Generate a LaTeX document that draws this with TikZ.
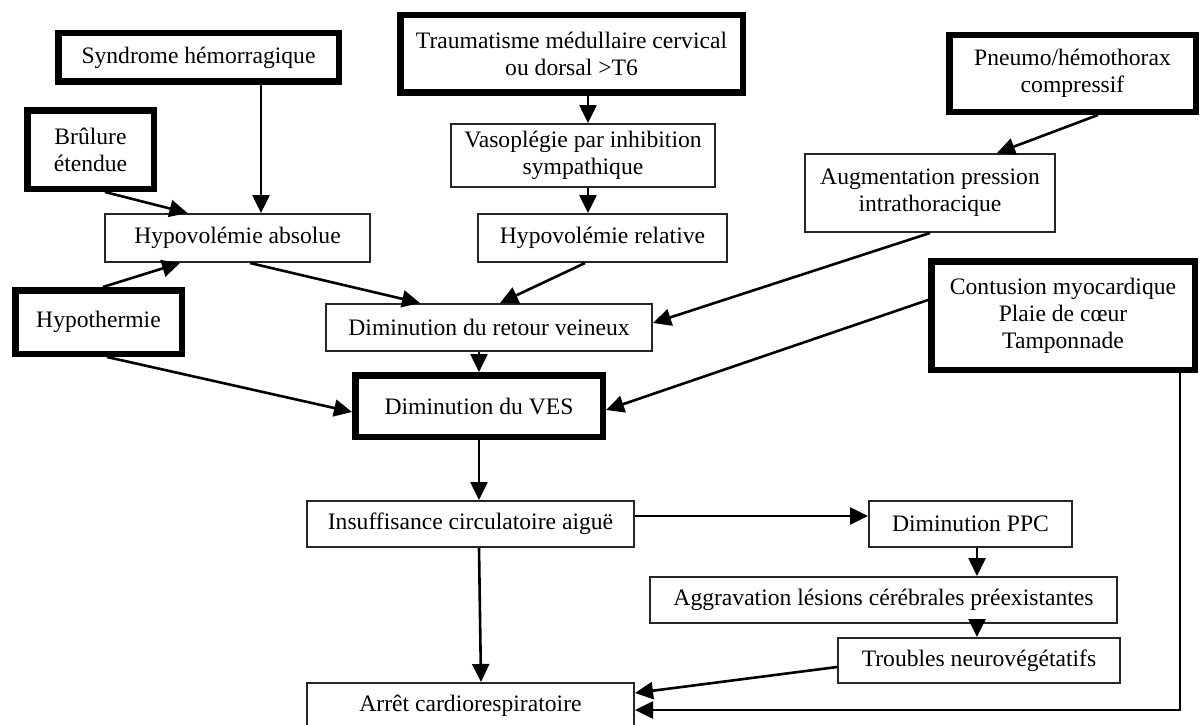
\documentclass[tikz,border=0pt]{standalone}
\usepackage{fontspec}
\setmainfont{Liberation Serif}
\usetikzlibrary{arrows.meta,calc}
\begin{document}
\begin{tikzpicture}[x=1pt,y=-1pt,
  every node/.style={font=\fontsize{23.6}{27}\selectfont, align=center, inner sep=0pt},
  thinbox/.style={draw=black!85, line width=2pt, fill=white},
  thickbox/.style={draw=black, line width=6.5pt, fill=white},
  link/.style={draw=black, line width=2.6pt, -{Triangle[length=18pt,width=17pt]}}
]
\useasboundingbox (0,0) rectangle (1200,725);
% cause boxes (thick)
\node[thickbox, minimum width=280.5pt, minimum height=48.5pt] (syn) at (198.5,57.5) {Syndrome hémorragique};
\node[thickbox, minimum width=126.5pt, minimum height=78.5pt] (bru) at (90.5,149.5) {Brûlure\\étendue};
\node[thickbox, minimum width=166.5pt, minimum height=63.5pt] (hyt) at (98.5,322) {Hypothermie};
\node[thickbox, minimum width=342.5pt, minimum height=77.5pt] (tra) at (571.5,54) {Traumatisme médullaire cervical\\ou dorsal >T6};
\node[thickbox, minimum width=246.5pt, minimum height=76.5pt] (pne) at (1072.5,73.5) {Pneumo/hémothorax\\compressif};
\node[thickbox, minimum width=263.5pt, minimum height=108.5pt] (con) at (1063,315.5) {Contusion myocardique\\Plaie de cœur\\Tamponnade};
\node[thickbox, minimum width=247.5pt, minimum height=61.5pt] (ves) at (479,406) {Diminution du VES};
% intermediate boxes (thin)
\node[thinbox, minimum width=265pt, minimum height=48pt] (ha) at (237.5,238) {Hypovolémie absolue};
\node[thinbox, minimum width=264pt, minimum height=63pt] (vas) at (583,155.5) {Vasoplégie par inhibition\\sympathique};
\node[thinbox, minimum width=249pt, minimum height=48pt] (hr) at (602.5,238) {Hypovolémie relative};
\node[thinbox, minimum width=326pt, minimum height=47pt] (rv) at (489,327.5) {Diminution du retour veineux};
\node[thinbox, minimum width=250pt, minimum height=78pt] (aug) at (930,193) {Augmentation pression\\intrathoracique};
\node[thinbox, minimum width=327pt, minimum height=46pt] (ins) at (470.5,524) {Insuffisance circulatoire aiguë};
\node[thinbox, minimum width=203pt, minimum height=46pt] (ppc) at (970.5,524) {Diminution PPC};
\node[thinbox, minimum width=467pt, minimum height=46pt] (agg) at (883.5,600) {Aggravation lésions cérébrales préexistantes};
\node[thinbox, minimum width=282pt, minimum height=45pt] (tro) at (979,660.5) {Troubles neurovégétatifs};
\node[thinbox, minimum width=327pt, minimum height=46pt] (arr) at (470.5,706) {Arrêt cardiorespiratoire};
% connectors
\draw[link] ([xshift=62.5pt]syn.south) -- ([xshift=62.5pt]syn.south |- ha.north);
\draw[link] ([xshift=14.5pt]bru.south) -- ([xshift=-50pt]ha.north);
\draw[link] ([xshift=4.5pt]hyt.north) -- ([xshift=-57.5pt]ha.south);
\draw[link] ([xshift=12.5pt]ha.south) -- ([xshift=-69pt]rv.north);
\draw[link] ([xshift=8.5pt]hyt.south) -- ([yshift=-6pt]ves.west);
\draw[link] ([xshift=16.5pt]tra.south) -- ([xshift=16.5pt]tra.south |- vas.north);
\draw[link] ([xshift=5pt]vas.south) -- ([xshift=5pt]vas.south |- hr.north);
\draw[link] ([xshift=-17.5pt]hr.south) -- ([xshift=11pt]rv.north);
\draw[link] ([xshift=25.5pt]pne.south) -- ([xshift=67pt]aug.north);
\draw[link] (aug.south) -- ([yshift=4.5pt]rv.east);
\draw[link] ([yshift=15.5pt]con.west) -- ([yshift=-4pt]ves.east);
\draw[link] ([xshift=-10pt]rv.south) -- ([xshift=-10pt]rv.south |- ves.north);
\draw[link] (ves.south) -- (ves.south |- ins.north);
\draw[link] ([xshift=8.5pt]ins.south) -- ([xshift=10.5pt]arr.north);
\draw[link] ([yshift=8pt]ins.east) -- ([yshift=8pt]ins.east -| ppc.west);
\draw[link] ([xshift=6.5pt]ppc.south) -- ([xshift=6.5pt]ppc.south |- agg.north);
\draw[link] ([xshift=93.5pt]agg.south) -- ([xshift=93.5pt]agg.south |- tro.north);
\draw[link] ([yshift=-6.5pt]tro.west) -- ([yshift=13pt]arr.east);
\draw[link] ([xshift=117pt]con.south) |- ([yshift=-4pt]arr.east);
\end{tikzpicture}
\end{document}
